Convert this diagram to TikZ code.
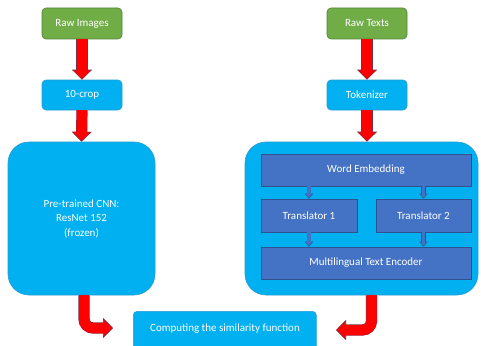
\documentclass[tikz,border=0pt]{standalone}
\usepackage{fontspec}
\setmainfont{Carlito}
\usetikzlibrary{arrows.meta,calc}
\definecolor{gfill}{HTML}{70AD47}
\definecolor{gline}{HTML}{548235}
\definecolor{bfill}{HTML}{00B0F0}
\definecolor{bline}{HTML}{2A9BD3}
\definecolor{dfill}{HTML}{4472C4}
\definecolor{dline}{HTML}{2F528F}
\definecolor{arrdark}{RGB}{125,45,70}
\tikzset{
  lbl/.style={text=white, font=\fontsize{11}{14.5}\selectfont, align=center, inner sep=0pt},
  greenbox/.style={lbl, draw=gline, fill=gfill, line width=0.6pt, rounded corners=4pt, minimum width=80pt, minimum height=31pt},
  bluebox/.style={lbl, draw=bline, fill=bfill, line width=0.6pt, rounded corners=4pt},
  bigbox/.style={lbl, draw=bline, fill=bfill, line width=0.6pt, rounded corners=21pt},
  darkbox/.style={lbl, draw=dline, fill=dfill, line width=0.6pt},
  redarr/.style={line width=10pt, red,
    preaction={draw, -, line width=11.2pt, arrdark, shorten >=9pt},
    -{Triangle[width=20pt,length=10pt,line width=0.6pt,color=arrdark,fill=red]},
    postaction={draw, -, line width=10pt, red, shorten >=9pt}},
  smallarr/.style={line width=3.4pt, dfill,
    preaction={draw, -, line width=4.2pt, dline, shorten >=4pt},
    -{Triangle[width=8pt,length=5pt,line width=0.4pt,color=dline,fill=dfill]},
    postaction={draw, -, line width=3.4pt, dfill, shorten >=4pt}}
}
\begin{document}
\begin{tikzpicture}[x=1pt,y=-1pt]
\useasboundingbox (0,0) rectangle (481,345);
\clip (0,0) rectangle (481,345);
% left column
\node[greenbox] (rawimg) at (82,23.5) {Raw Images};
\node[bluebox, minimum width=80pt, minimum height=30pt] (crop) at (82,95) {10-crop};
\node[bigbox, minimum width=147pt, minimum height=153pt] (cnn) at (81.5,218.5) {Pre-trained CNN:\\ResNet 152\\(frozen)};
% right column
\node[greenbox] (rawtxt) at (367,23.5) {Raw Texts};
\node[bluebox, minimum width=80pt, minimum height=30pt] (tok) at (367,95) {Tokenizer};
\node[bigbox, minimum width=233pt, minimum height=153pt] (tbox) at (361.5,218.5) {};
\node[darkbox, minimum width=210pt, minimum height=32pt] (emb) at (366,170) {Word Embedding};
\node[darkbox, minimum width=96pt, minimum height=33pt] (tr1) at (309,215.5) {Translator 1};
\node[darkbox, minimum width=95pt, minimum height=33pt] (tr2) at (423.5,215.5) {Translator 2};
\node[darkbox, minimum width=210pt, minimum height=32pt] (enc) at (366,263) {Multilingual Text Encoder};
% bottom
\node[bluebox, minimum width=183pt, minimum height=40pt, anchor=north west] (comp) at (133,311) {};
\node[lbl] (comptxt) at (225,329) {Computing the similarity function};
% arrows
\draw[redarr] (rawimg.south) -- (crop.north);
\draw[redarr] (crop.south) -- (cnn.north);
\draw[redarr] (rawtxt.south) -- (tok.north);
\draw[redarr] (tok.south) -- (tbox.north -| tok.south);
\draw[smallarr] (emb.south -| tr1.north) -- (tr1.north);
\draw[smallarr] (emb.south -| tr2.north) -- (tr2.north);
\draw[smallarr] (tr1.south) -- (enc.north -| tr1.south);
\draw[smallarr] (tr2.south) -- (enc.north -| tr2.south);
\coordinate (lt) at (113,328);
\coordinate (rt) at (336,330);
\draw[redarr, rounded corners=9pt] ($(cnn.south)+(2.5,0)$) |- (lt);
\draw[redarr, rounded corners=9pt] ($(tbox.south)+(10,0)$) |- (rt);
\end{tikzpicture}
\end{document}
